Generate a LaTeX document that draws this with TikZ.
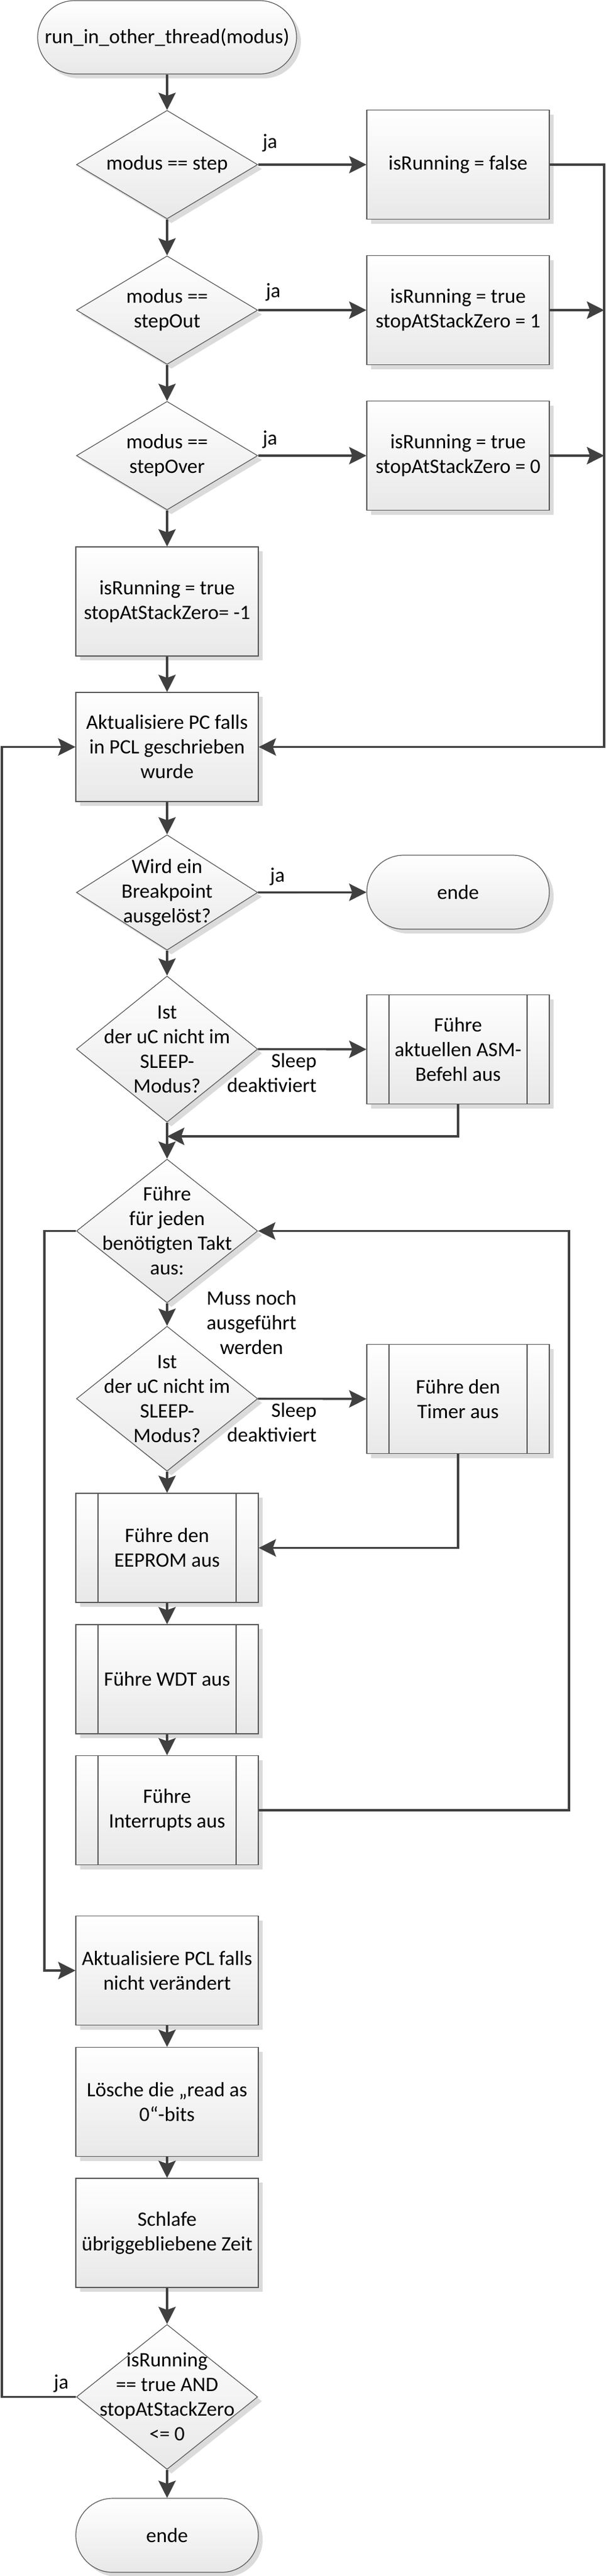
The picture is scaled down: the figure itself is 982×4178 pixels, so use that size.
\documentclass[tikz,border=0pt]{standalone}
\usepackage{fontspec}
\setmainfont{Carlito}
\usetikzlibrary{shapes.geometric,shadows,arrows.meta}
\begin{document}
\begin{tikzpicture}[x=0.5pt, y=-0.5pt,
    font=\fontsize{16.6pt}{20pt}\selectfont,
    base/.style={draw=black!65, line width=0.6pt, top color=white, bottom color=black!9,
      drop shadow={shadow xshift=3.5pt, shadow yshift=-3.5pt, fill=black!14, opacity=1},
      align=center, inner sep=0pt},
    process/.style={base, rectangle, minimum width=148pt, minimum height=88.5pt},
    subproc/.style={process, path picture={
      \draw[black!65, line width=0.6pt] ([xshift=18pt]path picture bounding box.north west) -- ([xshift=18pt]path picture bounding box.south west);
      \draw[black!65, line width=0.6pt] ([xshift=-18pt]path picture bounding box.north east) -- ([xshift=-18pt]path picture bounding box.south east);}},
    terminal/.style={base, rectangle, rounded corners=29.9pt, minimum width=148pt, minimum height=60pt},
    decision/.style={base, diamond, inner sep=-80pt, minimum width=147pt},
    tag/.style={inner sep=0pt, align=center},
    flow/.style={draw=black!75, line width=1.7pt, -{Stealth[length=14pt, width=14pt, inset=2.5pt]}}]
    \useasboundingbox (0,0) rectangle (982,4178);
    \node[terminal, minimum width=210pt, minimum height=59.5pt] (start) at (271,60.5) {run\_in\_other\_thread(modus)};
    \node[decision, minimum height=88pt] (step) at (271,267) {modus == step};
    \node[process] (notrun) at (743,267) {isRunning = false};
    \node[decision, minimum height=88pt] (stepout) at (271,503) {modus ==\\stepOut};
    \node[process] (runout) at (743,503) {isRunning = true\\stopAtStackZero = 1};
    \node[decision, minimum height=88pt] (stepover) at (271,739) {modus ==\\stepOver};
    \node[process] (runover) at (743,739) {isRunning = true\\stopAtStackZero = 0};
    \node[process] (runall) at (271,975.5) {isRunning = true\\stopAtStackZero= -1};
    \node[process] (pc) at (271,1211.5) {Aktualisiere PC falls\\in PCL geschrieben\\wurde};
    \node[decision, minimum height=93.5pt] (bp) at (271,1447.5) {Wird ein\\Breakpoint\\ausgelöst?};
    \node[terminal] (endbp) at (743,1447) {ende};
    \node[decision, minimum height=118.5pt] (sleepa) at (271,1701.5) {Ist\\der uC nicht im\\SLEEP-\\Modus?};
    \node[subproc] (asm) at (743,1702) {Führe\\aktuellen ASM-\\Befehl aus};
    \node[decision, minimum height=116.5pt] (takt) at (271,1996.5) {Führe\\für jeden\\benötigten Takt\\aus:};
    \node[decision, minimum height=117.5pt] (sleepb) at (271,2268.5) {Ist\\der uC nicht im\\SLEEP-\\Modus?};
    \node[subproc] (timer) at (743,2269) {Führe den\\Timer aus};
    \node[subproc] (eeprom) at (271,2510.5) {Führe den\\EEPROM aus};
    \node[subproc] (wdt) at (271,2723.5) {Führe WDT aus};
    \node[subproc] (intr) at (271,2936) {Führe\\Interrupts aus};
    \node[process] (pcl) at (271,3196) {Aktualisiere PCL falls\\nicht verändert};
    \node[process] (clear) at (271,3409) {Lösche die „read as\\0“-bits};
    \node[process] (sleeprest) at (271,3621.5) {Schlafe\\übriggebliebene Zeit};
    \node[decision, minimum height=117.5pt] (again) at (271,3887.5) {isRunning\\== true AND\\stopAtStackZero\\<= 0};
    \node[terminal] (end) at (271,4112) {ende};
    \coordinate (bus) at (980,1211.5);
    \coordinate (backleft) at (3,1211.5);
    \coordinate (loopin) at (72,3196);
    \coordinate (loopback) at (923,1996.5);
    \coordinate (merge) at (271,1843);
    \draw[flow] (start) -- (step);
    \draw[flow] (step) -- (stepout);
    \draw[flow] (stepout) -- (stepover);
    \draw[flow] (stepover) -- (runall);
    \draw[flow] (runall) -- (pc);
    \draw[flow] (pc) -- (bp);
    \draw[flow] (bp) -- (sleepa);
    \draw[flow] (sleepa) -- (takt);
    \draw[flow] (takt) -- node[tag, midway, xshift=68.5pt, yshift=-6.5pt] (muss) {Muss noch\\ausgeführt\\werden} (sleepb);
    \draw[flow] (sleepb) -- (eeprom);
    \draw[flow] (eeprom) -- (wdt);
    \draw[flow] (wdt) -- (intr);
    \draw[flow] (pcl) -- (clear);
    \draw[flow] (clear) -- (sleeprest);
    \draw[flow] (sleeprest) -- (again);
    \draw[flow] (again) -- (end);
    \draw[flow] (step) -- node[tag, pos=0.11, yshift=17.5pt] (ja1) {ja} (notrun);
    \draw[flow] (stepout) -- node[tag, pos=0.14, yshift=14.5pt] (ja2) {ja} (runout);
    \draw[flow] (stepover) -- node[tag, pos=0.11, yshift=13pt] (ja3) {ja} (runover);
    \draw[flow] (bp) -- node[tag, pos=0.18, yshift=12.5pt] (ja4) {ja} (endbp);
    \draw[flow] (sleepa) -- node[tag, pos=0.55, anchor=east, yshift=-19pt, align=right] (sleepatag) {Sleep\\deaktiviert} (asm);
    \draw[flow] (sleepb) -- node[tag, pos=0.55, anchor=east, yshift=-19pt, align=right] (sleepbtag) {Sleep\\deaktiviert} (timer);
    \draw[flow] (notrun.east) -| (bus) -- (pc.east);
    \draw[flow] (runout.east) -- (runout.east -| bus);
    \draw[flow] (runover.east) -- (runover.east -| bus);
    \draw[flow] (asm.south) |- (merge);
    \draw[flow] (timer.south) |- (eeprom.east);
    \draw[flow] (takt.west) -| (loopin) -- (pcl.west);
    \draw[flow] (intr.east) -| (loopback) -- (takt.east);
    \draw[flow] (again.west) -| node[tag, pos=0.1, yshift=11pt] (ja5) {ja} (backleft) -- (pc.west);
  \end{tikzpicture}
\end{document}
